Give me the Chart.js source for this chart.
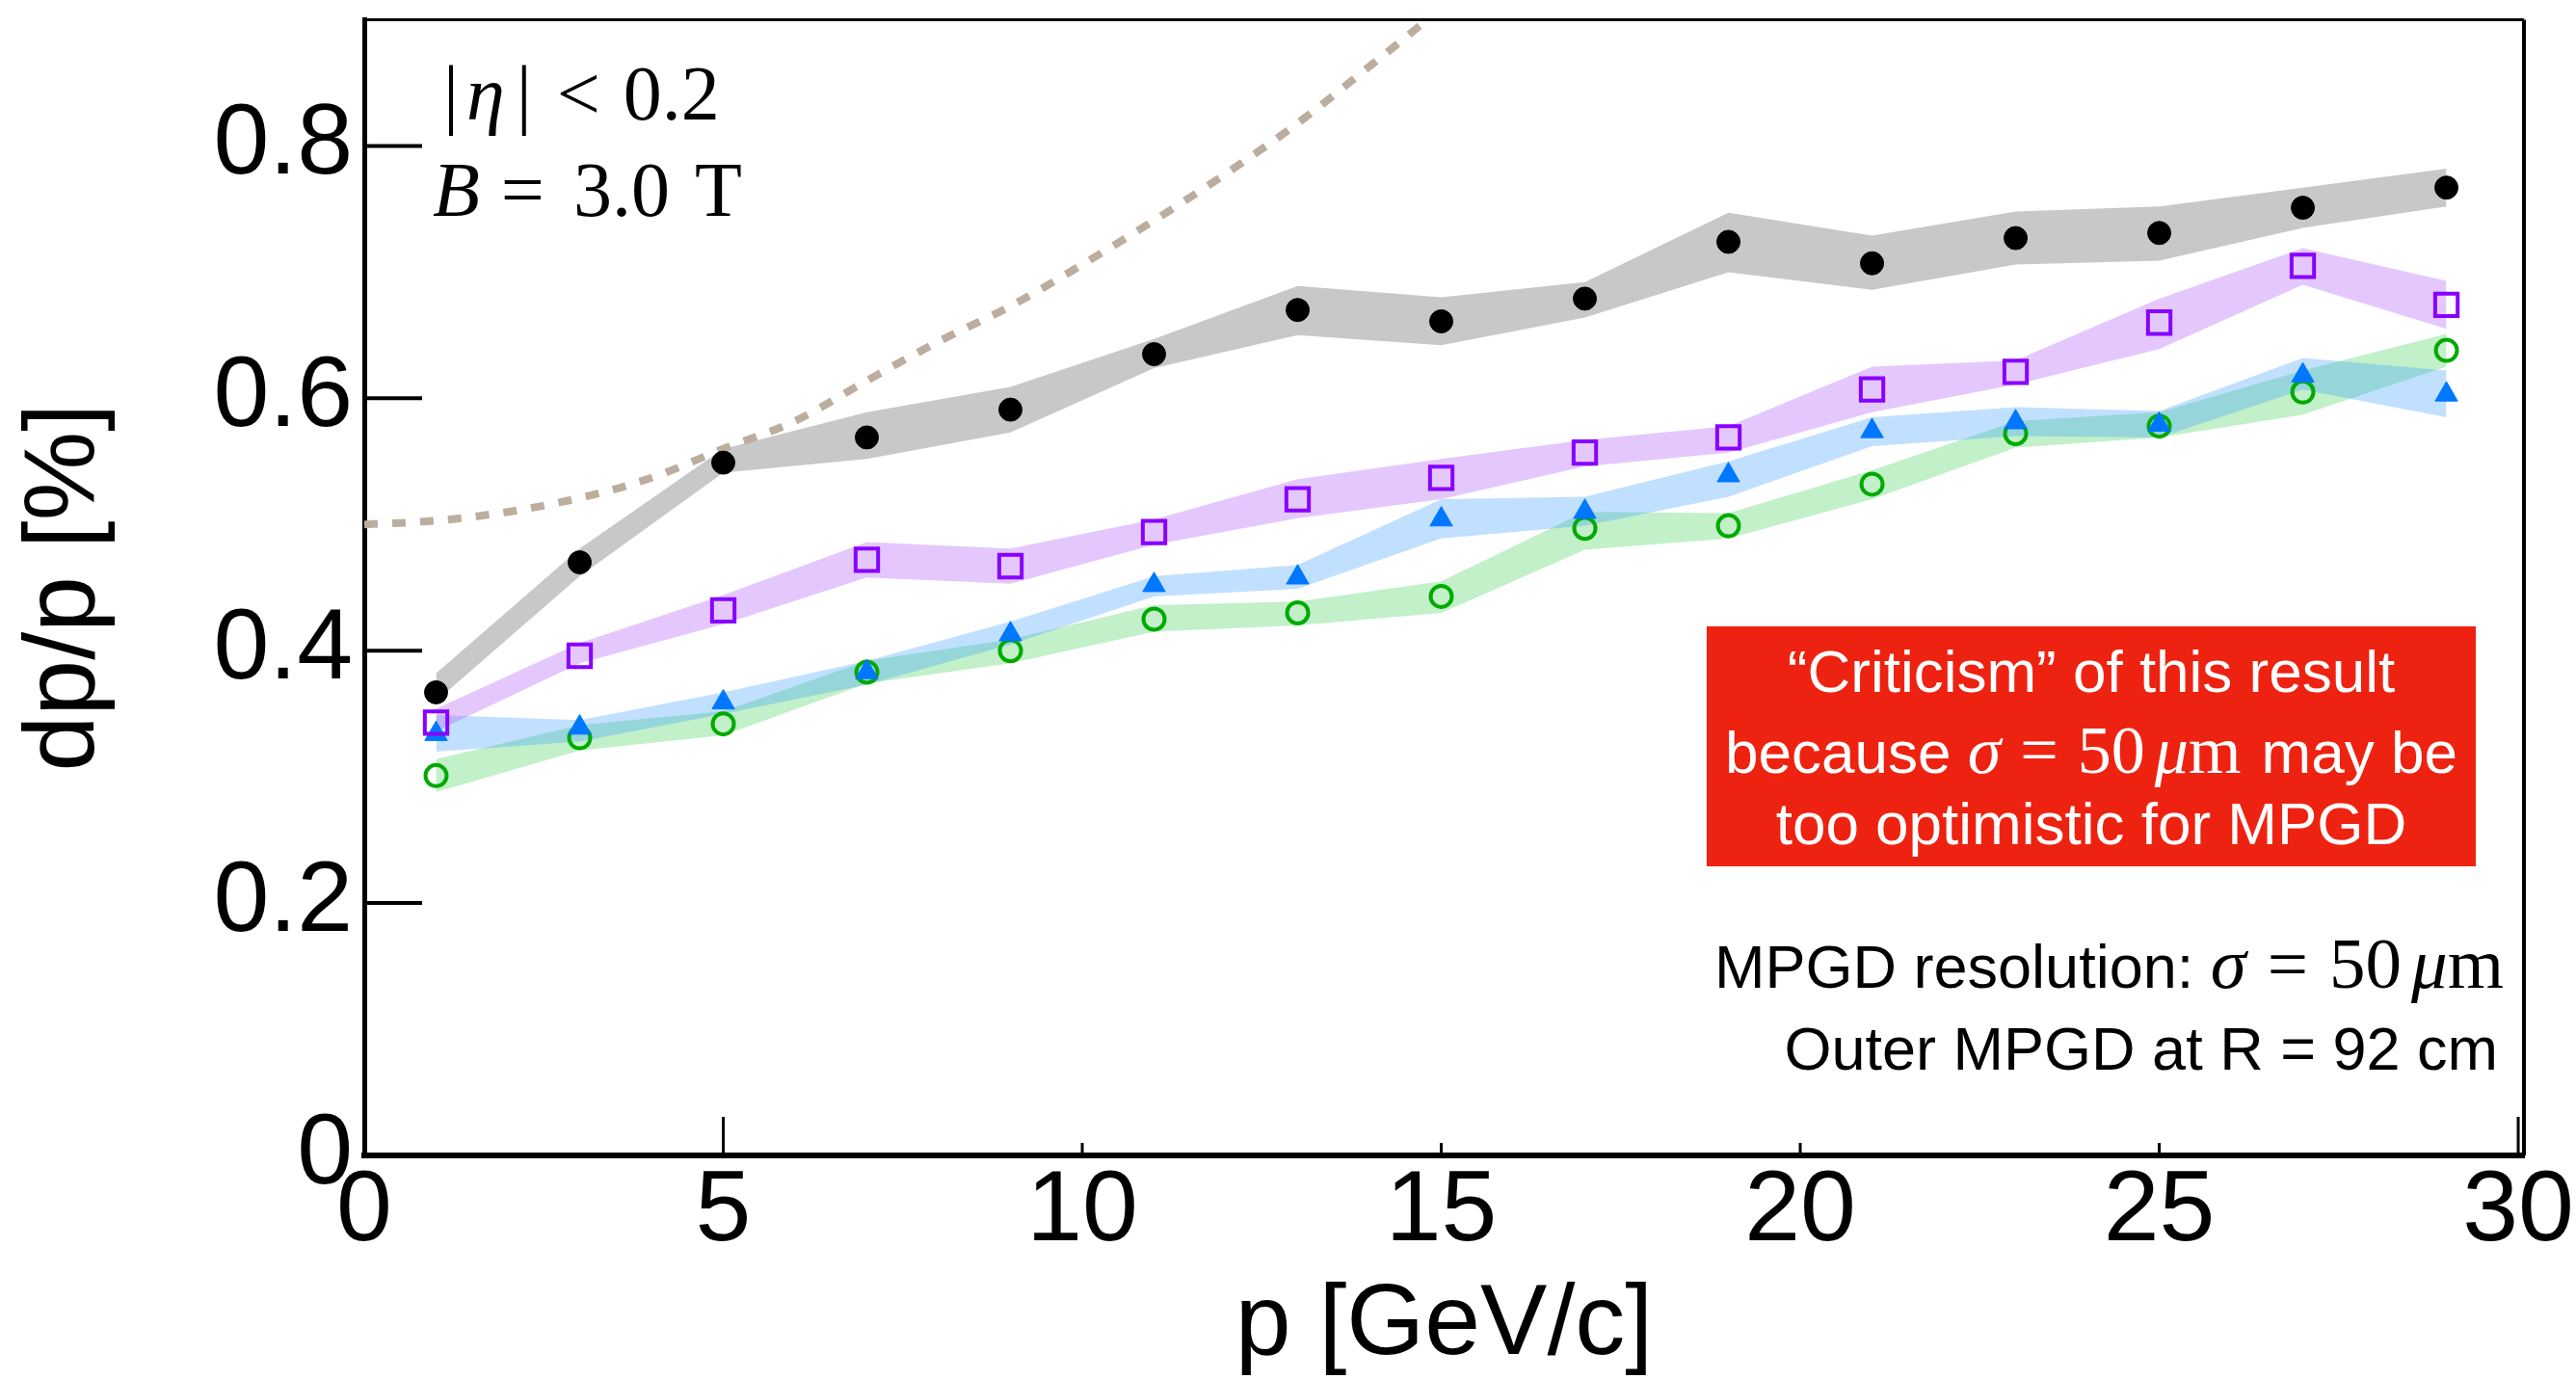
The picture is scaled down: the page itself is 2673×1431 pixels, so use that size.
<!DOCTYPE html>
<html>
<head>
<meta charset="utf-8">
<title>dp/p vs p</title>
<script src="https://cdn.jsdelivr.net/npm/chart.js@4.4.1/dist/chart.umd.min.js"></script>
<style>
  html, body { margin: 0; padding: 0; background: #fff; }
  #chart { display: block; }
</style>
</head>
<body>
<canvas id="chart" width="2673" height="1431"></canvas>
<script>
// momentum points [GeV/c]
const pValues = [1, 3, 5, 7, 9, 11, 13, 15, 17, 19, 21, 23, 25, 27, 29];

// black dots + grey band
const blackVals = [0.367, 0.470, 0.549, 0.569, 0.591, 0.635, 0.670, 0.661, 0.679, 0.724, 0.707, 0.727, 0.731, 0.751, 0.767];
const blackLow  = [0.360, 0.459, 0.541, 0.552, 0.573, 0.624, 0.650, 0.642, 0.664, 0.700, 0.686, 0.706, 0.709, 0.735, 0.752];
const blackHigh = [0.382, 0.481, 0.560, 0.589, 0.609, 0.647, 0.689, 0.680, 0.692, 0.747, 0.729, 0.748, 0.752, 0.767, 0.782];

// open purple squares + purple band
const purpleVals = [0.343, 0.396, 0.432, 0.472, 0.467, 0.494, 0.520, 0.537, 0.557, 0.569, 0.607, 0.621, 0.660, 0.705, 0.674];
const purpleLow  = [0.336, 0.390, 0.421, 0.458, 0.453, 0.484, 0.505, 0.520, 0.546, 0.557, 0.589, 0.611, 0.639, 0.690, 0.655];
const purpleHigh = [0.354, 0.406, 0.444, 0.486, 0.481, 0.504, 0.536, 0.552, 0.567, 0.578, 0.625, 0.630, 0.679, 0.719, 0.693];

// blue triangles + blue band
const blueVals = [0.334, 0.339, 0.359, 0.383, 0.413, 0.452, 0.458, 0.504, 0.510, 0.539, 0.574, 0.581, 0.579, 0.618, 0.603];
const blueLow  = [0.320, 0.328, 0.350, 0.373, 0.405, 0.443, 0.449, 0.489, 0.499, 0.522, 0.562, 0.570, 0.569, 0.607, 0.585];
const blueHigh = [0.349, 0.345, 0.367, 0.392, 0.423, 0.459, 0.468, 0.520, 0.522, 0.550, 0.585, 0.593, 0.590, 0.632, 0.622];

// open green circles + green band
const greenVals = [0.301, 0.331, 0.342, 0.383, 0.400, 0.425, 0.430, 0.443, 0.497, 0.499, 0.532, 0.572, 0.578, 0.605, 0.638];
const greenLow  = [0.288, 0.321, 0.333, 0.374, 0.390, 0.415, 0.420, 0.430, 0.480, 0.489, 0.520, 0.561, 0.569, 0.587, 0.625];
const greenHigh = [0.314, 0.341, 0.352, 0.392, 0.409, 0.436, 0.439, 0.455, 0.510, 0.509, 0.543, 0.582, 0.589, 0.622, 0.651];

// dashed curve
const curveP    = [0, 1, 2, 3, 4, 5, 6, 7, 8, 9, 10, 11, 12, 13, 14, 15];
const curveVals = [0.500, 0.503, 0.510, 0.521, 0.537, 0.560, 0.582, 0.614, 0.645, 0.673, 0.706, 0.741, 0.778, 0.818, 0.863, 0.909];

// axis ticks
const xTicks = [0, 5, 10, 15, 20, 25, 30];
const yTicks = [0, 0.2, 0.4, 0.6, 0.8];

const sans = '"Liberation Sans", Arial, Helvetica, sans-serif';
const serif = '"Liberation Serif", "Times New Roman", serif';

function toPoints(xs, ys) {
    return xs.map((x, i) => ({ x: x, y: ys[i] }));
}

function band(low, high, color) {
    return [
        { data: toPoints(pValues, low), borderWidth: 0, borderColor: 'transparent', pointRadius: 0, fill: false, order: 3 },
        { data: toPoints(pValues, high), borderWidth: 0, borderColor: 'transparent', pointRadius: 0, fill: '-1', backgroundColor: color, order: 3 }
    ];
}

function markers(vals, style, radius, fillColor, lineColor, lineWidth) {
    return {
        data: toPoints(pValues, vals),
        showLine: false,
        pointStyle: style,
        pointRadius: radius,
        pointBackgroundColor: fillColor,
        pointBorderColor: lineColor,
        pointBorderWidth: lineWidth,
        order: 1
    };
}

// draw a line of mixed-font text pieces
function drawRuns(ctx, runs, x, y, align) {
    let total = 0;
    runs.forEach(r => {
        ctx.font = r.font;
        r.w = ctx.measureText(r.text).width;
        total += r.w + (r.gap || 0);
    });
    let cx = align === 'center' ? x - total / 2 : (align === 'right' ? x - total : x);
    ctx.textAlign = 'left';
    ctx.textBaseline = 'alphabetic';
    runs.forEach(r => {
        cx += r.gap || 0;
        ctx.font = r.font;
        ctx.fillText(r.text, cx, y);
        cx += r.w;
    });
}

const longTickAt = [5, 30];

const framePlugin = {
    id: 'frame',
    afterDraw(chart) {
        const ctx = chart.ctx;
        const area = chart.chartArea;
        const xs = chart.scales.x;
        const ys = chart.scales.y;
        ctx.save();
        ctx.strokeStyle = '#000';

        // top and right frame
        ctx.lineWidth = 3;
        ctx.beginPath();
        ctx.moveTo(area.left, area.top);
        ctx.lineTo(area.right, area.top);
        ctx.stroke();
        ctx.lineWidth = 4;
        ctx.beginPath();
        ctx.moveTo(area.right, area.top);
        ctx.lineTo(area.right, area.bottom);
        ctx.stroke();

        // inward tick marks
        ctx.lineWidth = 4;
        yTicks.forEach(v => {
            if (v === 0) return;
            const py = ys.getPixelForValue(v);
            ctx.beginPath();
            ctx.moveTo(area.left, py);
            ctx.lineTo(area.left + 60, py);
            ctx.stroke();
        });
        ctx.lineWidth = 3;
        xTicks.forEach(v => {
            if (v === 0) return;
            const px = xs.getPixelForValue(v);
            const len = longTickAt.includes(v) ? 40 : 13;
            ctx.beginPath();
            ctx.moveTo(px, area.bottom);
            ctx.lineTo(px, area.bottom - len);
            ctx.stroke();
        });

        // labels top left
        ctx.fillStyle = '#000';
        const s80 = '80px ' + serif;
        const i80 = 'italic 80px ' + serif;
        drawRuns(ctx, [
            { text: '|', font: s80 },
            { text: 'η', font: i80, gap: 8 },
            { text: '|', font: s80, gap: 12 },
            { text: '<', font: s80, gap: 26 },
            { text: '0.2', font: s80, gap: 24 }
        ], 460, 124, 'left');
        drawRuns(ctx, [
            { text: 'B', font: i80 },
            { text: '=', font: s80, gap: 22 },
            { text: '3.0', font: s80, gap: 30 },
            { text: 'T', font: s80, gap: 26 }
        ], 449, 224, 'left');

        // red note box
        ctx.fillStyle = '#ee2210';
        ctx.fillRect(1771, 650, 798, 249);
        ctx.fillStyle = '#fff';
        const s62 = '62px ' + sans;
        const m70 = '70px ' + serif;
        const mi70 = 'italic 70px ' + serif;
        drawRuns(ctx, [{ text: '“Criticism” of this result', font: s62 }], 2170, 718, 'center');
        drawRuns(ctx, [
            { text: 'because ', font: s62 },
            { text: 'σ', font: mi70 },
            { text: '=', font: m70, gap: 20 },
            { text: '50', font: m70, gap: 20 },
            { text: 'μ', font: mi70, gap: 10 },
            { text: 'm', font: m70 },
            { text: ' may be', font: s62, gap: 4 }
        ], 2170, 802, 'center');
        drawRuns(ctx, [{ text: 'too optimistic for MPGD', font: s62 }], 2170, 876, 'center');

        // detector note bottom right
        ctx.fillStyle = '#000';
        const s63 = '63px ' + sans;
        const m75 = '75px ' + serif;
        const mi75 = 'italic 75px ' + serif;
        drawRuns(ctx, [
            { text: 'MPGD resolution: ', font: s63 },
            { text: 'σ', font: mi75 },
            { text: '=', font: m75, gap: 22 },
            { text: '50', font: m75, gap: 22 },
            { text: 'μ', font: mi75, gap: 10 },
            { text: 'm', font: m75 }
        ], 2598, 1025, 'right');
        drawRuns(ctx, [{ text: 'Outer MPGD at R = 92 cm', font: s63 }], 2592, 1110, 'right');

        ctx.restore();
    }
};

const datasets = [].concat(
    band(blackLow, blackHigh, '#c8c8c8'),
    band(purpleLow, purpleHigh, 'rgba(170, 85, 250, 0.32)'),
    band(blueLow, blueHigh, 'rgba(51, 153, 255, 0.30)'),
    band(greenLow, greenHigh, 'rgba(51, 204, 76, 0.30)'),
    [{
        data: toPoints(curveP, curveVals),
        borderColor: '#bcae9f',
        borderWidth: 8,
        borderDash: [14, 15],
        borderCapStyle: 'butt',
        cubicInterpolationMode: 'monotone',
        pointRadius: 0,
        fill: false,
        clip: 0,
        order: 2
    }],
    [
        markers(blackVals, 'circle', 12, '#000', '#000', 1),
        markers(purpleVals, 'rect', 16.5, 'transparent', '#8800ff', 4),
        markers(blueVals, 'triangle', 13.5, '#0077ff', '#0077ff', 1),
        markers(greenVals, 'circle', 11, 'transparent', '#00aa00', 4)
    ]
);

new Chart(document.getElementById('chart'), {
    type: 'line',
    data: { datasets: datasets },
    options: {
        responsive: false,
        animation: false,
        events: [],
        layout: { padding: { left: 0, right: 54, top: 19, bottom: 0 } },
        plugins: {
            legend: { display: false },
            tooltip: { enabled: false }
        },
        scales: {
            x: {
                type: 'linear',
                min: 0,
                max: 30.08,
                afterBuildTicks: axis => { axis.ticks = xTicks.map(v => ({ value: v })); },
                afterFit: axis => { axis.height = 232; axis.paddingLeft = 0; axis.paddingRight = 0; },
                grid: { display: false, drawTicks: false },
                border: { display: true, color: '#000', width: 6 },
                ticks: {
                    color: '#000',
                    font: { family: sans, size: 104, lineHeight: 1 },
                    padding: 7,
                    maxRotation: 0,
                    autoSkip: false,
                    callback: v => String(v)
                },
                title: {
                    display: true,
                    text: 'p [GeV/c]',
                    color: '#000',
                    font: { family: sans, size: 104, lineHeight: 1 },
                    padding: { top: 0, bottom: 3 }
                }
            },
            y: {
                type: 'linear',
                min: 0,
                max: 0.9,
                afterBuildTicks: axis => { axis.ticks = yTicks.map(v => ({ value: v })); },
                afterFit: axis => { axis.width = 378; axis.paddingTop = 0; axis.paddingBottom = 0; },
                grid: { display: false, drawTicks: false },
                border: { display: true, color: '#000', width: 5 },
                ticks: {
                    color: '#000',
                    font: { family: sans, size: 104, lineHeight: 1 },
                    padding: 12,
                    callback: v => (v === 0 ? '0' : v.toFixed(1))
                },
                title: {
                    display: true,
                    text: 'dp/p [%]',
                    color: '#000',
                    font: { family: sans, size: 104, lineHeight: 1 },
                    padding: { top: 16, bottom: 0 }
                }
            }
        }
    },
    plugins: [framePlugin]
});
</script>
</body>
</html>
